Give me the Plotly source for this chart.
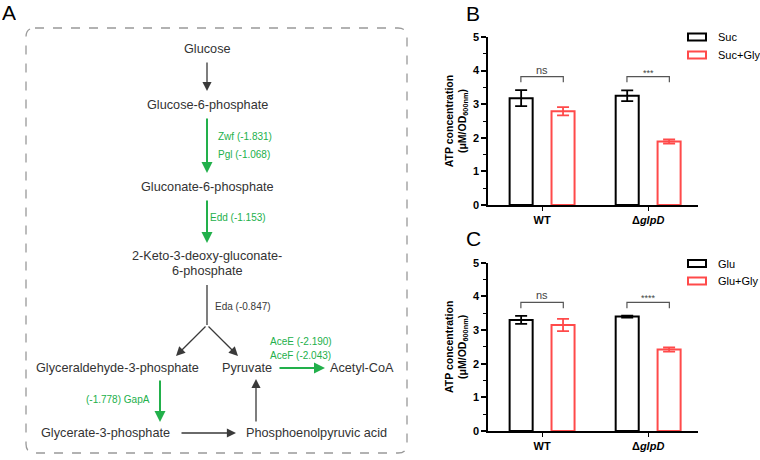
import plotly.graph_objects as go

W, H = 760, 460
FONT = "Arial, Liberation Sans, sans-serif"
GREEN = "#22b04b"
DARK = "#3a3a3a"
RED = "#ff4a4a"

# bar chart data
groups = ["WT", "ΔglpD"]
group_ticks = ["WT", "Δ<i>glpD</i>"]

b_names = ["Suc", "Suc+Gly"]
b_ctrl = [3.18, 3.25]
b_ctrl_err = [0.24, 0.16]
b_gly = [2.79, 1.89]
b_gly_err = [0.12, 0.06]
b_sig = ["ns", "***"]

c_names = ["Glu", "Glu+Gly"]
c_ctrl = [3.30, 3.40]
c_ctrl_err = [0.12, 0.03]
c_gly = [3.15, 2.42]
c_gly_err = [0.18, 0.06]
c_sig = ["ns", "****"]

bracket_y = 3.82
bracket_drop = 0.17

# pathway text (panel A)
metabolites = [
    ("Glucose", 207, 49),
    ("Glucose-6-phosphate", 207, 105),
    ("Gluconate-6-phosphate", 207, 187),
    ("2-Keto-3-deoxy-gluconate-", 207, 256),
    ("6-phosphate", 207, 271),
    ("Glyceraldehyde-3-phosphate", 117, 368),
    ("Pyruvate", 247, 368),
    ("Acetyl-CoA", 362, 368),
    ("Glycerate-3-phosphate", 106, 433),
    ("Phosphoenolpyruvic acid", 316, 433),
]
enzymes = [
    ("Zwf (-1.831)", 216, 137, GREEN, "left"),
    ("Pgl (-1.068)", 216, 154, GREEN, "left"),
    ("Edd (-1.153)", 208, 218, GREEN, "left"),
    ("Eda (-0.847)", 213, 306, DARK, "left"),
    ("AceE (-2.190)", 268, 341, GREEN, "left"),
    ("AceF (-2.043)", 268, 355, GREEN, "left"),
    ("(-1.778) GapA", 118, 399, GREEN, "center"),
]
arrows = [
    (207, 61, 207, 91, DARK),
    (207, 117, 207, 173, GREEN),
    (207, 199, 207, 243, GREEN),
    (207, 325, 176, 356, DARK),
    (207, 325, 238, 356, DARK),
    (278, 368, 325, 368, GREEN),
    (160, 379, 160, 422, GREEN),
    (180, 433, 236, 433, DARK),
    (256, 423, 256, 379, DARK),
]


def px(x):
    return x / W


def py(y):
    return 1 - y / H


fig = go.Figure()

annotations = []
shapes = []


def text_at(x, y, text, size, color, anchor="center"):
    annotations.append(dict(x=px(x), y=py(y), xref="paper", yref="paper", text=text,
                            xanchor=anchor, yanchor="middle", showarrow=False,
                            font=dict(family=FONT, size=size, color=color)))


for name, x, y in metabolites:
    text_at(x, y, name, 12.7, "#333333")
for name, x, y, color, anchor in enzymes:
    text_at(x, y, name, 10, color, anchor)
for x0, y0, x1, y1, color in arrows:
    green = color == GREEN
    annotations.append(dict(x=px(x1), y=py(y1), xref="paper", yref="paper",
                            ax=x0 - x1, ay=y0 - y1, axref="pixel", ayref="pixel",
                            text="", showarrow=True, arrowhead=2,
                            arrowsize=1.1 if green else 1.4,
                            arrowwidth=2 if green else 1.3, arrowcolor=color))

# stem before the Eda branch
shapes.append(dict(type="line", xref="paper", yref="paper", x0=px(207), y0=py(285),
                   x1=px(207), y1=py(325), line=dict(color=DARK, width=1.3)))

# dashed rounded box
x0, x1, y0, y1, r = px(26), px(407), py(28), py(453), 9
rx, ry = r / W, r / H
box = (f"M {x0 + rx},{y0} L {x1 - rx},{y0} Q {x1},{y0} {x1},{y0 - ry} "
       f"L {x1},{y1 + ry} Q {x1},{y1} {x1 - rx},{y1} L {x0 + rx},{y1} "
       f"Q {x0},{y1} {x0},{y1 + ry} L {x0},{y0 - ry} Q {x0},{y0} {x0 + rx},{y0} Z")
shapes.append(dict(type="path", xref="paper", yref="paper", path=box,
                   line=dict(color="#999999", width=1.3, dash="dash")))

# panel letters
for letter, x, y, shift in [("A", 0, 0, 0), ("B", 464, 5, 4), ("C", 464, 230, 4)]:
    annotations.append(dict(x=px(x), y=py(y), xref="paper", yref="paper", text=letter,
                            xanchor="left", yanchor="top", height=20, valign="middle",
                            yshift=shift, showarrow=False,
                            font=dict(family=FONT, size=21, color="black")))

panels = [
    ("x", "y", b_names, b_ctrl, b_ctrl_err, b_gly, b_gly_err, b_sig, (37, 55)),
    ("x2", "y2", c_names, c_ctrl, c_ctrl_err, c_gly, c_gly_err, c_sig, (263.5, 281)),
]

for xa, ya, names, ctrl, ctrl_err, gly, gly_err, sig, leg_y in panels:
    for vals, errs, color, name in [(ctrl, ctrl_err, "black", names[0]), (gly, gly_err, RED, names[1])]:
        fig.add_trace(go.Bar(
            x=groups, y=vals, name=name, xaxis=xa, yaxis=ya, showlegend=False,
            marker=dict(color="white", line=dict(color=color, width=2)),
            error_y=dict(type="data", array=errs, visible=True, color=color, thickness=1.8, width=6),
        ))
    for i, label in enumerate(sig):
        left, right = i - 0.2, i + 0.2
        shapes.append(dict(type="path", xref=xa, yref=ya,
                           path=f"M {left},{bracket_y - bracket_drop} L {left},{bracket_y} "
                                f"L {right},{bracket_y} L {right},{bracket_y - bracket_drop}",
                           line=dict(color="#555555", width=1.2)))
        annotations.append(dict(x=i, y=bracket_y, xref=xa, yref=ya, text=label,
                                xanchor="center", yanchor="bottom", showarrow=False,
                                yshift=-1 if label == "ns" else -3,
                                font=dict(family=FONT, size=11 if label == "ns" else 9, color="#444444")))
    for (name, color), ly in zip([(names[0], "black"), (names[1], RED)], leg_y):
        shapes.append(dict(type="rect", xref="paper", yref="paper", x0=px(688), x1=px(706),
                           y0=py(ly - 3.5), y1=py(ly + 3.5), line=dict(color=color, width=2),
                           fillcolor="white"))
        text_at(716, ly, name, 11, "black", "left")

yaxis_style = dict(
    range=[0, 5], dtick=1, showgrid=False, zeroline=False, showline=True, linecolor="black",
    linewidth=1.5, ticks="outside", ticklen=5, tickwidth=1.5, tickcolor="black", automargin=False,
    tickfont=dict(family=FONT, size=11, color="black", weight="bold"),
    minor=dict(ticks="outside", ticklen=3, dtick=0.5, tickcolor="black", tickwidth=1.2),
    title=dict(text="ATP concentration<br>(μM/OD<sub>600nm</sub>)", standoff=4,
               font=dict(family=FONT, size=10.5, color="black", weight="bold")),
)
xaxis_style = dict(
    range=[-0.51, 1.47], showgrid=False, showline=True, linecolor="black", linewidth=1.5,
    ticks="outside", ticklen=4, tickwidth=1.2, tickcolor="black", automargin=False,
    tickvals=groups, ticktext=group_ticks,
    tickfont=dict(family=FONT, size=11, color="black", weight="bold"),
)

fig.update_layout(
    width=W, height=H, margin=dict(l=0, r=0, t=0, b=0, autoexpand=False),
    paper_bgcolor="white", plot_bgcolor="white",
    barmode="group", bargap=0.21, bargroupgap=0.45,
    xaxis=dict(domain=[px(488), px(698)], anchor="y", **xaxis_style),
    yaxis=dict(domain=[py(205), py(37)], anchor="x", **yaxis_style),
    xaxis2=dict(domain=[px(488), px(698)], anchor="y2", **xaxis_style),
    yaxis2=dict(domain=[py(431), py(262.7)], anchor="x2", **yaxis_style),
    annotations=annotations,
    shapes=shapes,
)

# drop the default page margin so the 760x460 figure fills the window exactly
fig.write_html("out.html", config={"displayModeBar": False},
               post_script="document.body.style.margin='0';document.body.style.overflow='hidden';")
